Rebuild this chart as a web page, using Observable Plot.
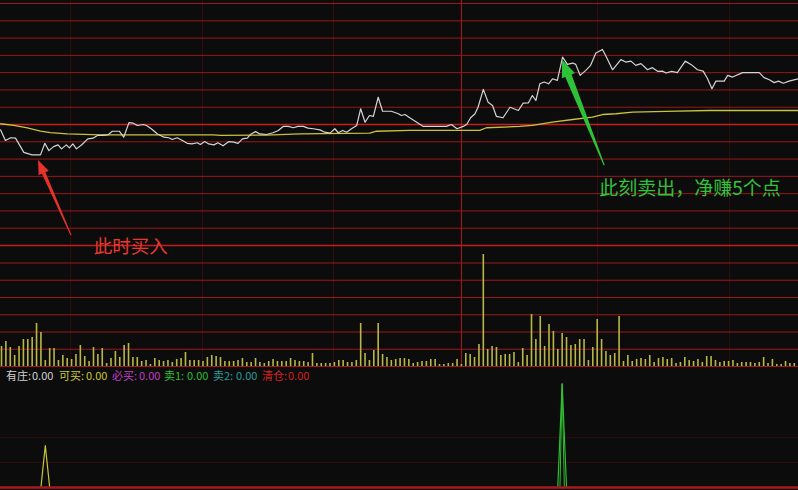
<!DOCTYPE html>
<html><head><meta charset="utf-8">
<script src="https://cdn.jsdelivr.net/npm/d3@7"></script>
<script src="https://cdn.jsdelivr.net/npm/@observablehq/plot@0.6"></script>
<style>
html,body{margin:0;padding:0;background:#0c0c0c;}
#chart{position:relative;width:798px;height:490px;background:#0c0c0c;overflow:hidden;font-family:"Noto Sans CJK SC","Noto Sans",sans-serif;}
#chart svg{position:absolute;left:0;overflow:visible;}
.leg{position:absolute;top:368px;font-size:11px;line-height:14px;white-space:nowrap;}
</style></head><body><div id="chart"></div>
<script>
// ---- data (minute index, % change vs previous close) ----
const pricePoints = [[-0.2,-0.28],[0.9,-0.83],[2.1,-0.69],[3.2,-0.71],[4.2,-1.10],[5.1,-1.45],[6.2,-1.53],[7.0,-1.58],[8.9,-1.58],[9.9,-0.98],
[10.8,-1.36],[11.9,-1.15],[12.9,-1.06],[13.7,-1.27],[14.8,-1.06],[15.5,-1.22],[16.3,-1.01],[17.1,-1.27],[18.4,-1.04],[19.7,-0.75],
[20.9,-0.71],[21.9,-0.57],[23.0,-0.57],[24.3,-0.54],[25.3,-0.35],[26.9,-0.35],[27.9,-0.66],[29.1,0.10],[30.1,0.07],[31.0,-0.05],
[32.4,0.00],[33.1,-0.05],[34.2,-0.22],[35.6,-0.49],[37.1,-0.66],[38.2,-0.69],[39.0,-0.78],[40.1,-0.69],[41.3,-0.83],[42.4,-0.98],
[43.5,-1.01],[44.7,-0.95],[45.4,-1.04],[46.4,-0.89],[47.3,-1.01],[48.5,-1.06],[49.4,-0.95],[50.6,-1.11],[51.9,-0.89],[53.0,-0.92],
[54.0,-0.98],[55.0,-0.75],[56.1,-0.71],[57.0,-0.49],[58.0,-0.37],[59.0,-0.49],[60.5,-0.52],[62.0,-0.43],[63.2,-0.31],[64.3,-0.10],
[65.5,-0.10],[66.6,-0.17],[67.7,-0.10],[68.9,-0.10],[70.0,-0.19],[71.2,-0.22],[72.7,-0.28],[73.8,-0.40],[75.0,-0.45],[76.1,-0.22],
[76.9,-0.43],[77.9,-0.31],[78.8,-0.40],[79.9,-0.22],[81.1,-0.05],[82.0,0.82],[83.0,0.12],[84.0,0.47],[84.9,0.42],[86.0,1.42],
[87.0,0.69],[89.0,0.69],[90.6,0.56],[91.3,0.47],[92.1,0.52],[93.2,0.35],[94.8,0.12],[96.3,-0.10],[98.6,-0.10],[101.6,-0.10],
[102.7,0.00],[104.0,-0.22],[105.4,-0.10],[106.2,0.00],[107.1,0.35],[108.1,0.56],[108.8,0.90],[110.0,1.83],[111.1,1.16],[112.1,0.99],
[113.0,0.42],[114.5,0.35],[116.1,0.90],[118.0,0.73],[119.1,1.11],[120.3,1.13],[121.2,1.51],[122.0,1.25],[122.9,2.12],[123.9,2.21],
[124.9,2.12],[125.8,2.38],[126.9,2.30],[128.1,3.51],[129.2,3.13],[130.4,3.20],[131.1,3.13],[132.1,2.56],[133.4,2.82],[134.5,3.08],
[135.7,3.72],[137.2,3.91],[138.1,3.51],[139.5,2.85],[141.4,3.38],[142.5,3.25],[143.7,3.30],[144.8,3.08],[146.0,3.17],[147.5,2.85],
[148.6,2.96],[149.8,2.77],[150.9,2.78],[151.7,2.68],[153.0,2.77],[154.3,2.70],[156.1,3.30],[157.4,3.13],[158.9,2.85],[160.2,2.78],
[161.2,2.38],[162.2,1.86],[163.1,2.26],[165.0,2.26],[165.8,2.56],[166.9,2.47],[169.2,2.70],[173.0,2.70],[174.1,2.44],[175.3,2.33],
[176.4,2.18],[177.4,2.26],[178.5,2.15],[179.8,2.26],[182.0,2.38]];

const avgPoints = [[-0.2,0.04],[2.8,-0.05],[5.9,-0.17],[8.9,-0.35],[11.2,-0.42],[15.0,-0.49],[22.6,-0.54],[48.4,-0.54],[50.0,-0.57],
[60.5,-0.55],[68.1,-0.49],[84.1,-0.45],[85.6,-0.35],[93.2,-0.31],[109.2,-0.31],[110.7,-0.17],[118.3,-0.10],[121.2,-0.05],
[125.8,0.12],[130.4,0.26],[134.9,0.38],[137.2,0.52],[140.3,0.56],[144.1,0.64],[151.7,0.68],[161.6,0.73],[182.0,0.73]];

const volume = [20,25,19,11,20,27,27,29,43,34, 6,18,18,6,11,8,7,12,21,10, 5,19,12,18,3,8,15,9,21,23,
 9,9,5,6,2,8,6,5,6,4, 7,8,14,6,6,6,5,9,11,10, 9,5,5,5,6,8,4,4,8,4, 3,5,7,5,5,5,8,6,5,5,
 4,13,3,3,3,3,4,6,6,4, 4,6,43,13,6,16,43,12,9,6, 7,
 8,8,7,3,4,5,5,7,7,2, 2,3,3,7,2,13,12,9,22,112, 17,20,19,11,12,12,14,4,18,11,
 52,27,50,20,42,35,17,33,29,21, 22,27,27,6,19,47,27,15,11,13, 50,5,11,5,7,8,7,11,4,8,
 9,7,8,3,4,9,6,5,7,4, 10,10,6,4,5,5,6,3,4,4, 4,3,4,9,3,7,2,2,5,3, 3];

const canBuy = [[9,0],[10,1.68],[11,0]];
const sell1 = [[127,0],[128,4.15],[129,0]];
const sell1Inner = [[127.5,0],[128,4.15],[128.5,0]];

const halfHourTicks = [15.8, 45.9, 75.8, 136.1, 166.2];
const middayTick = [105.0];
const priceGrid = [-6.3,-5.4,-4.5,-3.6,-2.7,-1.8,-0.9,0,0.9,1.8,2.7,3.6,4.5,5.4,6.3];
const volumeGrid = [17.25,34.5,51.75,69,86.25,103.5];
const indicatorGrid = [1, 2];

const indNames = ["有庄:", "可买:", "必买:", "卖1:", "卖2:", "清仓:"];
const indValues = ["0.00", "0.00", "0.00", "0.00", "0.00", "0.00"];
const indColors = ["#d2d2d2", "#c9c83a", "#c23ec4", "#2fbf32", "#2a9c9c", "#d42222"];

const notes = [
  {x: 29.5, y: -6.37, text: "此时买入", color: "#e8392f", size: 18.5},
  {x: 157.2, y: -3.34, text: "此刻卖出，净赚5个点", color: "#33c23b", size: 19}
];
const arrows = [
  {x1: 16.0, y1: -5.79, x2: 8.45, y2: -1.88, color: "#e5332b", head: 14, hw: 5.5, w0: 0.5, w1: 1.9},
  {x1: 137.7, y1: -2.14, x2: 128.1, y2: 3.34, color: "#2ec238", head: 17, hw: 7, w0: 0.6, w1: 3.4}
];

// ---- rendering ----
const xDomain = [-0.23, 181.96];
const bg = {background: "transparent", overflow: "visible"};
const chart = document.getElementById("chart");
const gridRed = "#9a1818";

function wedges(list) {
  return (index, scales) => {
    const ns = "http://www.w3.org/2000/svg";
    const g = document.createElementNS(ns, "g");
    for (const a of list) {
      const tx = scales.x(a.x1), ty = scales.y(a.y1), hx = scales.x(a.x2), hy = scales.y(a.y2);
      const dx = hx - tx, dy = hy - ty, L = Math.hypot(dx, dy);
      const ux = dx / L, uy = dy / L, nx = -uy, ny = ux;
      const bx = hx - ux * a.head, by = hy - uy * a.head;
      const pts = [
        [tx + nx * a.w0, ty + ny * a.w0], [bx + nx * a.w1, by + ny * a.w1], [bx + nx * a.hw, by + ny * a.hw],
        [hx, hy], [bx - nx * a.hw, by - ny * a.hw], [bx - nx * a.w1, by - ny * a.w1], [tx - nx * a.w0, ty - ny * a.w0]
      ];
      const p = document.createElementNS(ns, "polygon");
      p.setAttribute("points", pts.map(q => q.join(",")).join(" "));
      p.setAttribute("fill", a.color);
      g.appendChild(p);
    }
    return g;
  };
}

const volumeData = volume.map((v, i) => ({i, v}));

const volPlot = Plot.plot({
  width: 798, height: 122, marginTop: 0, marginBottom: 1, marginLeft: 0, marginRight: 0,
  x: {domain: xDomain, axis: null}, y: {domain: [0, 121], axis: null}, style: bg,
  marks: [
    Plot.ruleX(halfHourTicks, {stroke: "#360d0d"}),
    Plot.ruleX(middayTick, {stroke: "#b01c1c"}),
    Plot.ruleY(volumeGrid, {stroke: gridRed}),
    Plot.ruleX(volumeData, {x: "i", y1: 0, y2: "v", stroke: "#bab647", strokeWidth: 1.6}),
    Plot.ruleY([0], {stroke: "#a81a1a", strokeWidth: 1.2})
  ]
});
volPlot.style.top = "245px";
chart.appendChild(volPlot);

const indPlot = Plot.plot({
  width: 798, height: 123, marginTop: 7.5, marginBottom: 3, marginLeft: 0, marginRight: 0,
  x: {domain: xDomain, axis: null}, y: {domain: [0, 4.5], axis: null}, style: bg,
  marks: [
    Plot.ruleY(indicatorGrid, {stroke: "#2c0c0c"}),
    Plot.line(canBuy, {x: d => d[0], y: d => d[1], stroke: "#c9c83a", strokeWidth: 1.2}),
    Plot.line(sell1, {x: d => d[0], y: d => d[1], stroke: "#2fbf32", strokeWidth: 1.2}),
    Plot.line(sell1Inner, {x: d => d[0], y: d => d[1], stroke: "#2fbf32", strokeWidth: 1}),
    Plot.ruleY([0], {stroke: "#a81a1a", strokeWidth: 2.4})
  ]
});
indPlot.style.top = "367px";
chart.appendChild(indPlot);

const pricePlot = Plot.plot({
  width: 798, height: 246, marginTop: 0, marginBottom: 1, marginLeft: 0, marginRight: 0,
  x: {domain: xDomain, axis: null}, y: {domain: [-6.3, 6.457], axis: null}, style: bg,
  marks: [
    Plot.ruleX(halfHourTicks, {stroke: "#360d0d"}),
    Plot.ruleX(middayTick, {stroke: "#b01c1c"}),
    Plot.ruleY(priceGrid, {stroke: gridRed}),
    Plot.ruleY([0, -6.3], {stroke: "#c41e1e", strokeWidth: 1.6}),
    Plot.line(avgPoints, {x: d => d[0], y: d => d[1], stroke: "#c9c23c", strokeWidth: 1.3}),
    Plot.line(pricePoints, {x: d => d[0], y: d => d[1], stroke: "#d4d4d4", strokeWidth: 1.2}),
    wedges(arrows),
    Plot.text(notes, {x: "x", y: "y", text: "text", fill: d => d.color, fontSize: d => d.size,
      fontFamily: "Noto Sans CJK SC", textAnchor: "middle", lineAnchor: "middle"})
  ]
});
pricePlot.style.top = "0px";
pricePlot.style.zIndex = "2";
chart.appendChild(pricePlot);

const labelX = [6, 59, 112, 164, 213, 262];
const valueX = [32, 86, 139, 187, 236, 288];
indNames.forEach((n, k) => {
  const a = document.createElement("div");
  a.className = "leg"; a.style.left = labelX[k] + "px"; a.style.color = indColors[k]; a.textContent = n;
  const b = document.createElement("div");
  b.className = "leg"; b.style.left = valueX[k] + "px"; b.style.color = indColors[k]; b.textContent = indValues[k];
  chart.appendChild(a); chart.appendChild(b);
});
</script></body></html>
